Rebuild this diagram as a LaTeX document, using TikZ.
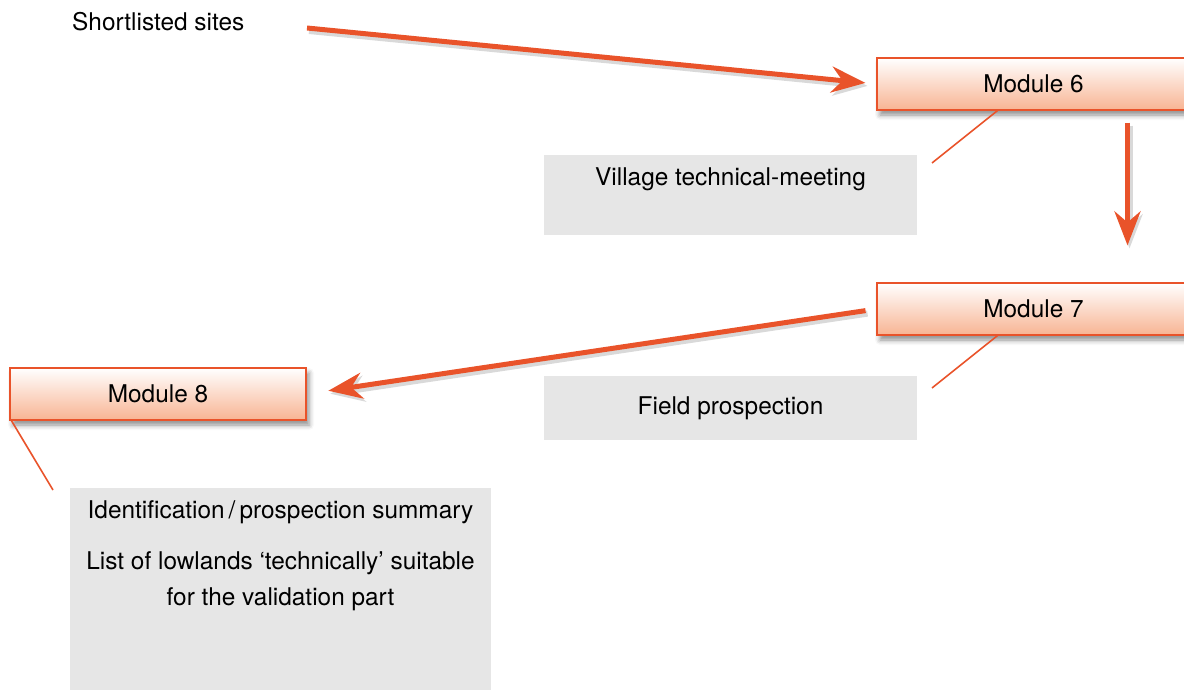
\documentclass[tikz,border=0pt]{standalone}
\usepackage{fontspec}
\setmainfont{TeX Gyre Heros}
\usetikzlibrary{arrows.meta,shadows.blur}
\definecolor{modorange}{HTML}{E9532A}
\definecolor{modpeach}{HTML}{F8B493}
\definecolor{notegray}{HTML}{E6E6E6}
\tikzset{%
  module/.style = {shape=rectangle, draw=modorange, line width=1.2pt,%
                   top color=white, bottom color=modpeach,%
                   minimum height=52pt, inner sep=0pt,%
                   blur shadow={shadow xshift=3pt, shadow yshift=-5pt, shadow blur radius=5pt, shadow opacity=45}},%
  note/.style   = {shape=rectangle, fill=notegray, inner sep=0pt},%
  flow/.style   = {draw=modorange, line width=5pt,%
                   -{Stealth[length=34pt, width=26pt, inset=11pt]},%
                   preaction={draw=black!15, line width=6pt, transform canvas={shift={(2pt,-3pt)}}}},%
  tie/.style    = {draw=modorange, line width=1.6pt}%
}

\begin{document}
\begin{tikzpicture}[x=1pt,y=-1pt,every node/.style={font=\fontsize{24.4}{36}\selectfont}]
		\useasboundingbox (0,0) rectangle (1184,690);
		% modules
		\node [module, minimum width=313pt] (m6) at (1033.5,84) {Module 6};
		\node [module, minimum width=313pt] (m7) at (1033.5,309) {Module 7};
		\node [module, minimum width=296pt] (m8) at (158,394) {Module 8};
		% notes
		\node [note, minimum width=373pt, minimum height=80pt] (vtm) at (730.5,195) {};
		\node [anchor=north, inner sep=0pt] (vtmtext) at ([yshift=-13pt]vtm.north) {Village technical-meeting};
		\node [note, minimum width=373pt, minimum height=64pt] (fp) at (730.5,408) {Field prospection};
		\node [note, minimum width=421pt, minimum height=204pt] (sum) at (280.5,590) {};
		\node [anchor=north, align=center, inner sep=0pt] (sumtext) at ([yshift=-13pt]sum.north)
			{Identification\,/\,prospection summary\\[15pt]List of lowlands ‘technically’ suitable\\for the validation part};
		\node [anchor=west, inner sep=0pt] (sites) at (72,22) {Shortlisted sites};
		% free ends
		\coordinate (start) at (307,28);
		\coordinate (t6) at (932,163);
		\coordinate (t7) at (932,388);
		\coordinate (t8) at (53,490);
		% connectors
		\draw [flow, shorten >=11pt] (start) -- (m6.west);
		\draw [flow, shorten <=12pt, shorten >=37pt] ([xshift=94pt]m6.south) -- ([xshift=94pt]m7.north);
		\draw [flow, shorten <=11pt, shorten >=22pt] (m7.west) -- (m8.east);
		\draw [tie] ([xshift=-36pt]m6.south) -- (t6);
		\draw [tie] ([xshift=-36pt]m7.south) -- (t7);
		\draw [tie] ([xshift=2pt]m8.south west) -- (t8);
	\end{tikzpicture}
\end{document}
